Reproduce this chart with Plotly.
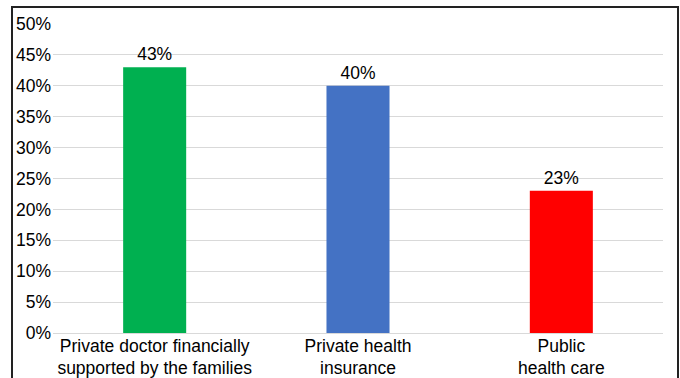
import plotly.graph_objects as go

categories = ["Private doctor financially<br>supported by the families",
              "Private health<br>insurance",
              "Public<br>health care"]
values = [43, 40, 23]
labels = ["43%", "40%", "23%"]
colors = ["#00b050", "#4472c4", "#ff0000"]
tick_vals = [0, 5, 10, 15, 20, 25, 30, 35, 40, 45, 50]
tick_text = [f"{v}%" for v in tick_vals]

FONT = "Liberation Sans"
FS = 17.5

fig = go.Figure(go.Bar(
    x=categories, y=values, text=labels, textposition="outside",
    marker=dict(color=colors, line=dict(width=0)),
    textfont=dict(family=FONT, size=FS, color="#000"),
    cliponaxis=False, width=0.31,
))

W, H = 680, 378
L, R, T, B = 53, 17, 24, 45
pw, ph = W - L - R, H - T - B

fig.update_layout(
    width=W, height=H,
    margin=dict(l=L, r=R, t=T, b=B, autoexpand=False),
    paper_bgcolor="white", plot_bgcolor="white",
    font=dict(family=FONT, size=FS, color="#000"),
    showlegend=False,
    xaxis=dict(showgrid=False, showline=False, ticks="", tickfont=dict(size=FS),
               ticklabelstandoff=0, automargin=False),
    yaxis=dict(range=[0, 50], tickvals=tick_vals, ticktext=tick_text,
               showgrid=True, gridcolor="#d9d9d9", gridwidth=1,
               zeroline=True, zerolinecolor="#d9d9d9", zerolinewidth=1,
               showline=False, ticks="", ticklabelstandoff=1, automargin=False,
               tickfont=dict(size=FS)),
    shapes=[dict(type="rect", xref="paper", yref="paper",
                 x0=(12 - L) / pw, x1=(678 - L) / pw,
                 y0=((H - B) - 395) / ph, y1=((H - B) - 7) / ph,
                 line=dict(color="#222", width=2), layer="above")],
)

fig.write_html("out.html")
